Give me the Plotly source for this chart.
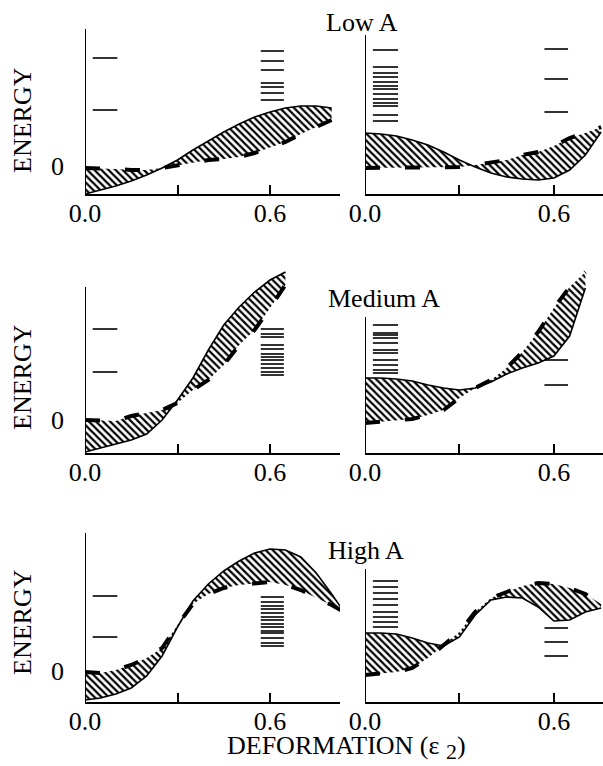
import plotly.graph_objects as go

W, H = 603, 766
FONT = "Liberation Serif"

# ---------------- data (energy in arbitrary units, deformation eps2) ----------------
# Row 1 (Low A)
eps_1L = [0, 0.05, 0.1, 0.15, 0.2, 0.25, 0.3, 0.35, 0.4, 0.45, 0.5, 0.55, 0.6, 0.65, 0.7, 0.75, 0.8]
solid_1L = [-2.8, -2.4, -2.0, -1.5, -0.9, -0.2, 0.6, 1.6, 2.5, 3.4, 4.2, 4.9, 5.4, 5.8, 6.0, 6.0, 5.8]
dashed_1L = [-0.2, -0.2, -0.3, -0.4, -0.4, -0.2, 0.1, 0.4, 0.6, 0.7, 0.9, 1.3, 1.8, 2.4, 3.2, 3.9, 4.6]
levA_1L = [10.8, 5.6]
levB_1L = [11.5, 10.5, 9.6, 8.3, 7.9, 7.3, 6.6]

eps_1R = [0, 0.05, 0.1, 0.15, 0.2, 0.25, 0.3, 0.35, 0.4, 0.45, 0.5, 0.55, 0.6, 0.65, 0.7, 0.75]
solid_1R = [3.3, 3.2, 3.0, 2.6, 2.1, 1.4, 0.6, -0.1, -0.7, -1.1, -1.3, -1.4, -1.2, -0.4, 1.1, 3.4]
dashed_1R = [-0.2, -0.2, -0.2, -0.2, -0.2, -0.1, -0.1, 0.1, 0.4, 0.6, 1.1, 1.4, 2.0, 2.8, 3.3, 3.9]
levA_1R = [11.6, 9.9, 9.3, 8.9, 8.4, 8.0, 7.7, 7.2, 6.7, 6.3, 6.0, 5.1, 4.5]
levB_1R = [11.7, 8.7, 5.4]

# Row 2 (Medium A)
eps_2L = [0, 0.05, 0.1, 0.15, 0.2, 0.25, 0.3, 0.35, 0.4, 0.45, 0.5, 0.55, 0.6, 0.65]
solid_2L = [-3.2, -2.8, -2.4, -2.0, -1.4, 0.0, 2.0, 4.2, 7.0, 9.5, 11.3, 12.8, 14.0, 14.8]
dashed_2L = [0.0, 0.0, -0.1, 0.4, 0.7, 1.0, 1.7, 3.0, 4.0, 5.5, 7.5, 9.0, 11.2, 13.5]
levA_2L = [9.1, 4.8]
levB_2L = [9.1, 8.6, 8.3, 7.5, 7.1, 6.6, 6.3, 6.0, 5.6, 5.2, 4.8, 4.5]

eps_2R = [0, 0.05, 0.1, 0.15, 0.2, 0.25, 0.3, 0.35, 0.4, 0.45, 0.5, 0.55, 0.6, 0.65, 0.7]
solid_2R = [4.2, 4.2, 4.1, 3.9, 3.5, 3.2, 3.0, 3.2, 3.8, 4.6, 5.2, 5.7, 6.4, 8.4, 13.2]
dashed_2R = [-0.3, -0.2, -0.1, 0.1, 0.5, 1.0, 2.2, 3.2, 4.0, 5.2, 6.8, 8.8, 11.2, 13.3, 14.8]
levA_2R = [9.5, 8.7, 8.5, 8.2, 7.7, 7.0, 6.7, 6.0, 5.5, 5.0, 4.7]
levB_2R = [6.0, 3.5]

# Row 3 (High A)
eps_3L = [0, 0.05, 0.1, 0.15, 0.2, 0.25, 0.3, 0.35, 0.4, 0.45, 0.5, 0.55, 0.6, 0.65, 0.7, 0.75, 0.8, 0.84]
solid_3L = [-2.9, -2.7, -2.3, -1.7, -0.5, 1.5, 4.4, 7.0, 8.7, 10.0, 11.0, 11.8, 12.2, 12.1, 11.4, 9.8, 7.7, 5.9]
dashed_3L = [-0.1, -0.2, 0.1, 0.6, 1.3, 2.3, 4.6, 6.7, 7.7, 8.3, 8.6, 8.8, 8.9, 8.6, 8.1, 7.3, 6.6, 5.9]
levA_3L = [7.5, 3.4]
levB_3L = [7.4, 6.9, 6.5, 6.2, 5.8, 5.4, 5.1, 4.7, 4.4, 4.0, 3.8, 3.3, 2.8, 2.5]

eps_3R = [0, 0.05, 0.1, 0.15, 0.2, 0.25, 0.3, 0.35, 0.4, 0.45, 0.5, 0.55, 0.6, 0.65, 0.7, 0.75]
solid_3R = [3.8, 3.8, 3.7, 3.3, 2.8, 2.5, 3.4, 5.6, 7.1, 7.4, 7.3, 6.4, 5.0, 5.1, 5.9, 6.3]
dashed_3R = [-0.4, -0.3, -0.1, 0.3, 1.3, 2.6, 3.9, 5.9, 7.3, 7.9, 8.5, 8.8, 8.7, 8.3, 7.7, 6.7]
levA_3R = [9.0, 8.4, 7.8, 7.2, 6.6, 5.9, 5.4, 4.9, 4.4]
levB_3R = [4.3, 2.9, 1.5]

row_titles = ["Low A", "Medium A", "High A"]
x_tickvals = [0, 0.3, 0.6]
x_ticktext = ["0.0", "", "0.6"]

panels = [
    (eps_1L, solid_1L, dashed_1L, levA_1L, levB_1L),
    (eps_1R, solid_1R, dashed_1R, levA_1R, levB_1R),
    (eps_2L, solid_2L, dashed_2L, levA_2L, levB_2L),
    (eps_2R, solid_2R, dashed_2R, levA_2R, levB_2R),
    (eps_3L, solid_3L, dashed_3L, levA_3L, levB_3L),
    (eps_3R, solid_3R, dashed_3R, levA_3R, levB_3R),
]

# ---------------- layout geometry ----------------
def px_x(p):
    return p / W

def px_y(p):
    return 1 - p / H

xdom_L = [px_x(85), px_x(340)]
xdom_R = [px_x(365), 1.0]
xrange_L = [0, 0.827]
xrange_R = [0, 0.756]
row_ydom = [[px_y(194), px_y(5)], [px_y(453), px_y(262)], [px_y(702), px_y(525)]]
row_yrange = [[-2.8, 16.1], [-3.3, 15.8], [-3.1, 14.6]]
axis_top = [13.7, 13.1, 13.3, 10.3, 13.8, 10.2]
levA_eps = [0.025, 0.105]
levB_eps = [0.57, 0.645]

fig = go.Figure()
shapes = []

def lev_xy(levels, e0, e1):
    xs, ys = [], []
    for v in levels:
        xs += [e0, e1, None]
        ys += [v, v, None]
    return xs, ys

for i, (eps, solid, dashed, levA, levB) in enumerate(panels):
    n = i + 1
    xa = "x" if n == 1 else f"x{n}"
    ya = "y" if n == 1 else f"y{n}"
    fig.add_trace(go.Scatter(x=eps, y=dashed, mode="lines", xaxis=xa, yaxis=ya,
                             line=dict(color="black", width=4, dash="15px,25px"),
                             showlegend=False, hoverinfo="skip"))
    fig.add_trace(go.Scatter(x=eps, y=solid, mode="lines", xaxis=xa, yaxis=ya,
                             fill="tonexty", fillcolor="rgba(0,0,0,0)",
                             fillpattern=dict(shape="\\", size=5, solidity=0.45,
                                              fgcolor="black", bgcolor="rgba(0,0,0,0)"),
                             line=dict(color="black", width=1.6),
                             showlegend=False, hoverinfo="skip"))
    for levels, (e0, e1) in ((levA, levA_eps), (levB, levB_eps)):
        xs, ys = lev_xy(levels, e0, e1)
        fig.add_trace(go.Scatter(x=xs, y=ys, mode="lines", xaxis=xa, yaxis=ya,
                                 line=dict(color="black", width=1.6),
                                 showlegend=False, hoverinfo="skip"))
    row = i // 2
    left = (i % 2 == 0)
    xkey = "xaxis" if n == 1 else f"xaxis{n}"
    ykey = "yaxis" if n == 1 else f"yaxis{n}"
    fig.layout[xkey] = dict(domain=xdom_L if left else xdom_R,
                            range=xrange_L if left else xrange_R,
                            anchor=ya, showline=True, linecolor="black", linewidth=2,
                            ticks="inside", ticklen=9, tickwidth=1.5, tickcolor="black",
                            tickvals=x_tickvals, ticktext=x_ticktext,
                            ticklabelstandoff=-5,
                            tickfont=dict(family=FONT, size=26, color="black"),
                            showgrid=False, zeroline=False, fixedrange=True,
                            automargin=False)
    fig.layout[ykey] = dict(domain=row_ydom[row], range=row_yrange[row], anchor=xa,
                            showline=False, showgrid=False, zeroline=False,
                            tickvals=[0] if left else [], ticktext=["0"] if left else [],
                            showticklabels=left, ticks="", ticklabelstandoff=20,
                            tickfont=dict(family=FONT, size=26, color="black"),
                            fixedrange=True, automargin=False)
    shapes.append(dict(type="line", xref=xa, yref=ya, x0=0, x1=0,
                       y0=row_yrange[row][0], y1=axis_top[i],
                       line=dict(color="black", width=2)))

annotations = []
for row, cy in enumerate([120, 377, 622]):
    annotations.append(dict(text="ENERGY", x=px_x(22), y=px_y(cy), xref="paper", yref="paper",
                            xanchor="center", yanchor="middle",
                            showarrow=False, textangle=-90,
                            font=dict(family=FONT, size=26, color="black")))
for t, (cx, cy) in zip(row_titles, [(362, 22), (384, 298), (366, 550)]):
    annotations.append(dict(text=t, x=px_x(cx), y=px_y(cy), xref="paper", yref="paper",
                            xanchor="center", yanchor="middle",
                            showarrow=False, font=dict(family=FONT, size=26, color="black")))
annotations.append(dict(text="DEFORMATION (\u03b5 <sub><span style='font-size:22px'>2</span></sub>)",
                        x=px_x(346), y=px_y(747),
                        xref="paper", yref="paper", xanchor="center", yanchor="middle",
                        showarrow=False,
                        font=dict(family=FONT, size=26, color="black")))

fig.update_layout(template="none", width=W, height=H, margin=dict(l=0, r=0, t=0, b=0),
                  paper_bgcolor="white", plot_bgcolor="white",
                  shapes=shapes, annotations=annotations, showlegend=False)

fig.write_html("out.html", config={"displayModeBar": False},
               post_script="document.body.style.margin='0';")
